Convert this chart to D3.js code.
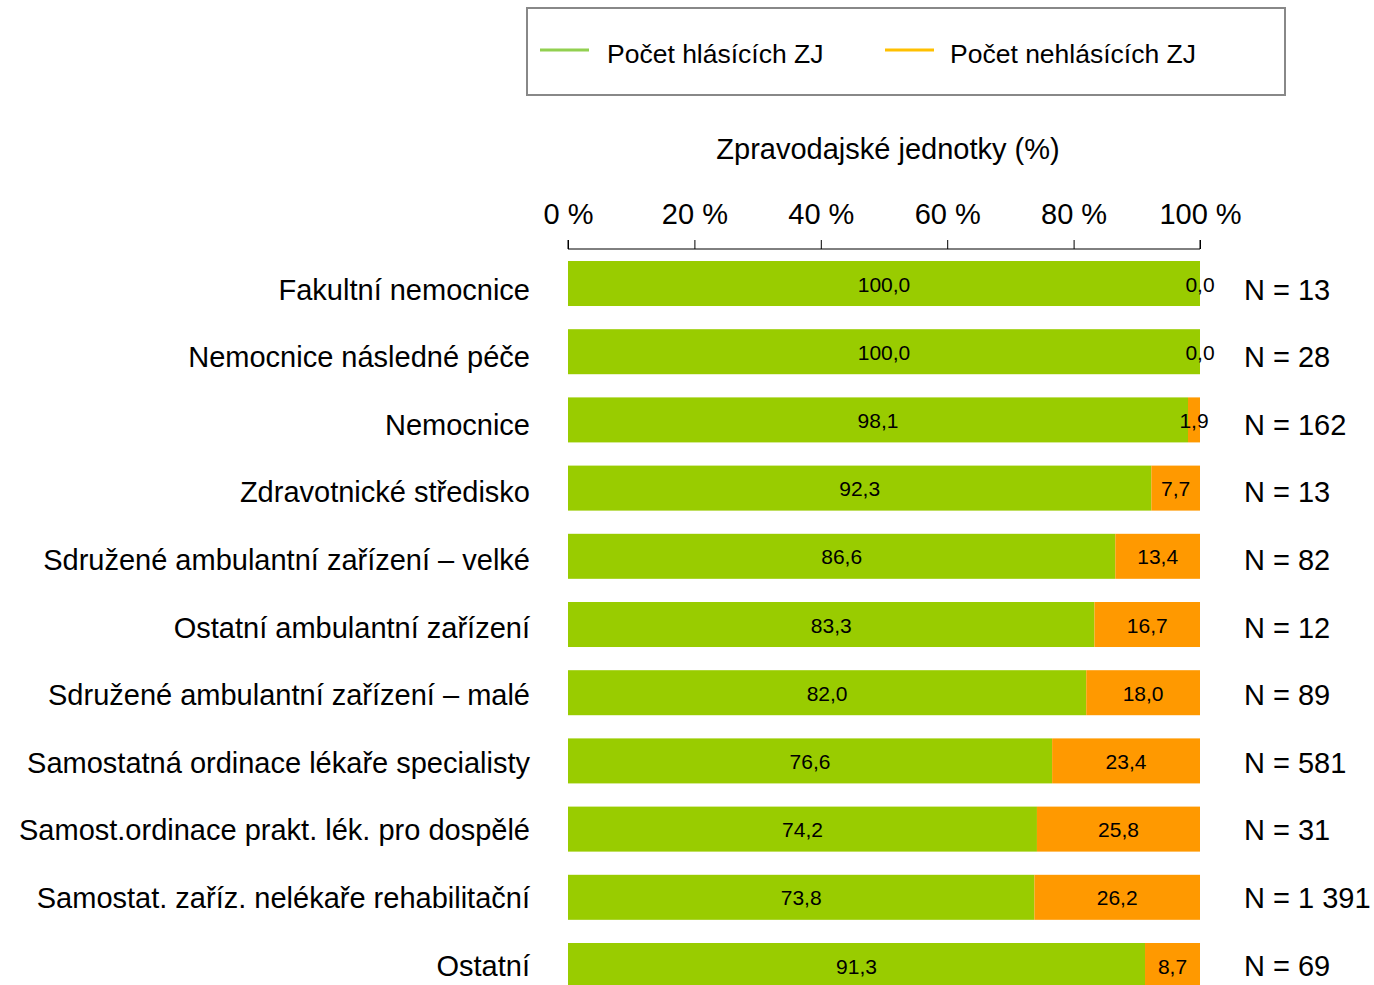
<!DOCTYPE html>
<html>
<head>
<meta charset="utf-8">
<script src="https://cdn.jsdelivr.net/npm/d3@7"></script>
<style>
  body { margin: 0; background: #fff; }
  text { font-family: "Liberation Sans", Arial, sans-serif; fill: #000; }
</style>
</head>
<body>
<div id="main"></div>
<script>
const categories = [
  "Fakultní nemocnice",
  "Nemocnice následné péče",
  "Nemocnice",
  "Zdravotnické středisko",
  "Sdružené ambulantní zařízení – velké",
  "Ostatní ambulantní zařízení",
  "Sdružené ambulantní zařízení – malé",
  "Samostatná ordinace lékaře specialisty",
  "Samost.ordinace prakt. lék. pro dospělé",
  "Samostat. zaříz. nelékaře rehabilitační",
  "Ostatní"
];
const reporting = [100.0, 100.0, 98.1, 92.3, 86.6, 83.3, 82.0, 76.6, 74.2, 73.8, 91.3];
const notReporting = [0.0, 0.0, 1.9, 7.7, 13.4, 16.7, 18.0, 23.4, 25.8, 26.2, 8.7];
const counts = ["13", "28", "162", "13", "82", "12", "89", "581", "31", "1 391", "69"];
const ticks = [0, 20, 40, 60, 80, 100];
const seriesNames = ["Počet hlásících ZJ", "Počet nehlásících ZJ"];

const config = {width: 1374, height: 985, left: 568, right: 1200, top: 261, step: 68.2, pad: 0.34};
const barColors = ["#99CC00", "#FF9900"];
const legendColors = ["#92D050", "#FFC000"];

const svg = d3.select("#main").append("svg")
  .attr("width", config.width)
  .attr("height", config.height);

const x = d3.scaleLinear().domain([0, 100]).range([config.left, config.right]);
const y = d3.scaleBand()
  .domain(categories)
  .range([config.top, config.top + config.step * (categories.length - config.pad)])
  .paddingInner(config.pad)
  .paddingOuter(0);
// side labels sit on a slightly tighter grid than the bars
const yLabel = d3.scalePoint().domain(categories).range([289, 965]);

const fmt = v => v.toFixed(1).replace(".", ",");

// legend
const legend = svg.append("g");
legend.append("rect")
  .attr("x", 527).attr("y", 8)
  .attr("width", 758).attr("height", 87)
  .attr("fill", "none")
  .attr("stroke", "#888")
  .attr("stroke-width", 2);
const legendX = [[540, 607], [885, 950]];
seriesNames.forEach((name, i) => {
  legend.append("line")
    .attr("x1", legendX[i][0]).attr("x2", legendX[i][0] + 49)
    .attr("y1", 50).attr("y2", 50)
    .attr("stroke", legendColors[i])
    .attr("stroke-width", 3);
  legend.append("text")
    .attr("x", legendX[i][1]).attr("y", 63)
    .style("font-size", "26.5px")
    .text(name);
});

// axis title
svg.append("text")
  .attr("x", (config.left + config.right) / 2 + 4)
  .attr("y", 159)
  .attr("text-anchor", "middle")
  .style("font-size", "29px")
  .text("Zpravodajské jednotky (%)");

// top axis
const xAxis = d3.axisTop(x)
  .tickValues(ticks)
  .tickSize(9)
  .tickFormat(d => d + " %");
const axisG = svg.append("g")
  .attr("transform", "translate(0,249)")
  .call(xAxis);
axisG.select(".domain").attr("d", `M${config.left},-9V0H${config.right}V-9`).attr("stroke", "#000");
axisG.selectAll(".tick line").attr("stroke", "#000");
axisG.selectAll(".tick text")
  .style("font-size", "29px")
  .style("font-family", "'Liberation Sans', Arial, sans-serif")
  .attr("fill", "#000")
  .attr("dy", 0)
  .attr("y", -25);

// bars
const rows = categories.map((c, i) => ({cat: c, a: reporting[i], b: notReporting[i], n: counts[i]}));
const row = svg.append("g").selectAll("g")
  .data(rows)
  .join("g");

row.append("rect")
  .attr("x", x(0))
  .attr("y", d => y(d.cat))
  .attr("width", d => x(d.a) - x(0))
  .attr("height", y.bandwidth())
  .attr("fill", barColors[0]);

row.append("rect")
  .attr("x", d => x(d.a))
  .attr("y", d => y(d.cat))
  .attr("width", d => x(d.a + d.b) - x(d.a))
  .attr("height", y.bandwidth())
  .attr("fill", barColors[1]);

row.append("text")
  .attr("x", d => (x(0) + x(d.a)) / 2)
  .attr("y", d => y(d.cat) + y.bandwidth() / 2 + 8)
  .attr("text-anchor", "middle")
  .style("font-size", "21px")
  .text(d => fmt(d.a));

row.append("text")
  .attr("x", d => (x(d.a) + x(d.a + d.b)) / 2)
  .attr("y", d => y(d.cat) + y.bandwidth() / 2 + 8)
  .attr("text-anchor", "middle")
  .style("font-size", "21px")
  .text(d => fmt(d.b));

// category labels
row.append("text")
  .attr("x", 530)
  .attr("y", d => yLabel(d.cat) + 10.5)
  .attr("text-anchor", "end")
  .style("font-size", "29px")
  .text(d => d.cat);

// N labels
row.append("text")
  .attr("x", 1244)
  .attr("y", d => yLabel(d.cat) + 10.5)
  .style("font-size", "29px")
  .text(d => "N = " + d.n);
</script>
</body>
</html>
